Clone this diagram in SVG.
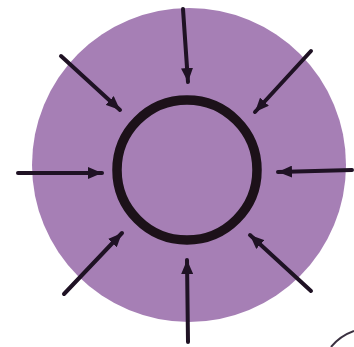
<svg xmlns="http://www.w3.org/2000/svg" width="354" height="347" viewBox="0 0 354 347">
<style>
.arrow{stroke:#1f1224;stroke-width:4;stroke-linecap:round;fill:none;marker-end:url(#ah)}
</style>
<defs>
<marker id="ah" markerUnits="userSpaceOnUse" markerWidth="16" markerHeight="12" refX="14" refY="6" orient="auto">
<path d="M0,0 L14,6 L0,12 Z" fill="#1f1224"/>
</marker>
</defs>
<rect width="354" height="347" fill="#ffffff"/>
<g id="outer">
<circle cx="189" cy="165" r="157" fill="#a67fb5"/>
</g>
<g id="core">
<circle cx="187" cy="170" r="70" fill="none" stroke="#1c1119" stroke-width="9.5"/>
</g>
<g id="connectors">
<line class="arrow" x1="183" y1="9" x2="188" y2="82"/>
<line class="arrow" x1="311" y1="51" x2="255" y2="112"/>
<line class="arrow" x1="352" y1="170" x2="278" y2="172"/>
<line class="arrow" x1="311" y1="291" x2="250" y2="235"/>
<line class="arrow" x1="188" y1="342" x2="187" y2="260"/>
<line class="arrow" x1="64" y1="294" x2="122" y2="233"/>
<line class="arrow" x1="18" y1="173" x2="102" y2="173"/>
<line class="arrow" x1="61" y1="56" x2="120" y2="110"/>
</g>
<path d="M331,347 Q340,336 354,331" fill="none" stroke="#3a3040" stroke-width="2"/>
</svg>
